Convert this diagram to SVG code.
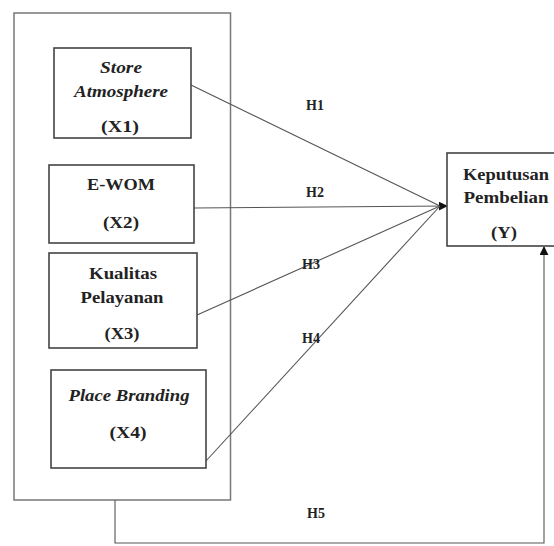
<svg xmlns="http://www.w3.org/2000/svg" width="554" height="546" viewBox="0 0 554 546">
<defs>
<marker id="arr" viewBox="0 0 10 10" refX="9" refY="5" markerWidth="9" markerHeight="9" markerUnits="userSpaceOnUse" orient="auto">
<path d="M0,0 L10,5 L0,10 z" fill="#111"/>
</marker>
</defs>
<style>
.box{fill:#fff;stroke:#444;stroke-width:1.6}
.outer{fill:none;stroke:#777;stroke-width:1.5}
.t{font-family:"Liberation Serif","Times New Roman",serif;font-weight:bold;font-size:16px;fill:#222;text-anchor:middle}
.i{font-style:italic}
.lab{font-family:"Liberation Serif","Times New Roman",serif;font-weight:bold;font-size:14px;fill:#222;text-anchor:middle}
.ln{fill:none;stroke:#555;stroke-width:1.1}
</style>
<rect width="554" height="546" fill="#fff"/>
<rect id="group-x" class="outer" x="14" y="13" width="216.5" height="487"/>
<g id="connectors">
<line class="ln" x1="191" y1="85" x2="440" y2="206"/>
<line class="ln" x1="194" y1="208" x2="447" y2="206" marker-end="url(#arr)"/>
<line class="ln" x1="197" y1="315" x2="440" y2="206"/>
<line class="ln" x1="206" y1="461" x2="440" y2="206"/>
<polyline class="ln" points="115,500 115,543 544,543 544,247" marker-end="url(#arr)"/>
<text class="lab" x="315" y="110">H1</text>
<text class="lab" x="315" y="197">H2</text>
<text class="lab" x="311" y="269">H3</text>
<text class="lab" x="311" y="343">H4</text>
<text class="lab" x="316" y="518">H5</text>
</g>
<g id="x1">
<rect class="box" x="54" y="48" width="137" height="90"/>
<text class="t i" x="121" y="73" textLength="42" lengthAdjust="spacingAndGlyphs">Store</text>
<text class="t i" x="121" y="97" textLength="94" lengthAdjust="spacingAndGlyphs">Atmosphere</text>
<text class="t" x="120" y="132" textLength="38" lengthAdjust="spacingAndGlyphs">(X1)</text>
</g>
<g id="x2">
<rect class="box" x="49" y="165" width="145" height="78"/>
<text class="t" x="121" y="190" textLength="68" lengthAdjust="spacingAndGlyphs">E-WOM</text>
<text class="t" x="121" y="228" textLength="36" lengthAdjust="spacingAndGlyphs">(X2)</text>
</g>
<g id="x3">
<rect class="box" x="49" y="253" width="148" height="95"/>
<text class="t" x="123" y="279" textLength="68" lengthAdjust="spacingAndGlyphs">Kualitas</text>
<text class="t" x="122" y="303" textLength="83" lengthAdjust="spacingAndGlyphs">Pelayanan</text>
<text class="t" x="122" y="339" textLength="35" lengthAdjust="spacingAndGlyphs">(X3)</text>
</g>
<g id="x4">
<rect class="box" x="51" y="370" width="155" height="98"/>
<text class="t i" x="129" y="401" textLength="121" lengthAdjust="spacingAndGlyphs">Place Branding</text>
<text class="t" x="128" y="438" textLength="37" lengthAdjust="spacingAndGlyphs">(X4)</text>
</g>
<g id="y">
<rect class="box" x="447" y="153" width="120" height="93"/>
<text class="t" x="506" y="180" textLength="86" lengthAdjust="spacingAndGlyphs">Keputusan</text>
<text class="t" x="506" y="203" textLength="85" lengthAdjust="spacingAndGlyphs">Pembelian</text>
<text class="t" x="504" y="238" textLength="26" lengthAdjust="spacingAndGlyphs">(Y)</text>
</g>
</svg>
